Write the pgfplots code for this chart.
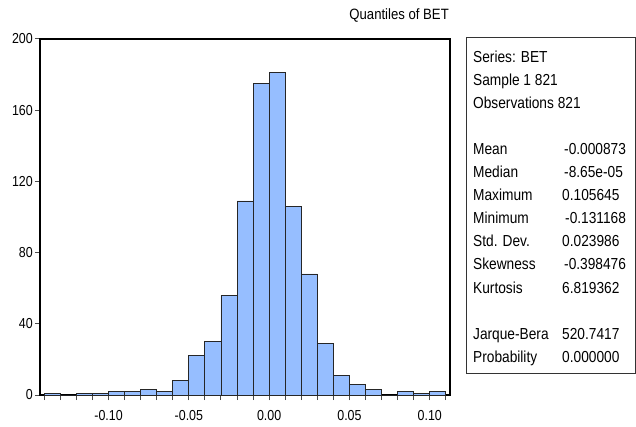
\documentclass[border=0pt]{standalone}
\usepackage{pgfplots}
\pgfplotsset{compat=1.18}
\usepackage{fontspec}
\setmainfont{Liberation Sans}[FakeStretch=0.88]
\newfontfamily\boxfont{Liberation Sans}[FakeStretch=0.86]
\newfontfamily\tickfont{Liberation Sans}[FakeStretch=0.86]
\definecolor{barblue}{RGB}{150,190,255}
\begin{document}
\begin{tikzpicture}[x=1bp,y=1bp]
\path[use as bounding box] (0,0) rectangle (636,426);
\begin{axis}[
  at={(40bp,31bp)}, anchor=south west,
  scale only axis, width=410bp, height=356bp,
  xmin=-0.1427, xmax=0.1126, ymin=0, ymax=200,
  axis line style={line width=1.3bp, black},
  tick align=outside,
  xtick pos=bottom, ytick pos=left,
  xtick={-0.10,-0.05,0,0.05,0.10},
  xticklabels={-0.10,-0.05,0.00,0.05,0.10},
  minor xtick={-0.14,-0.13,...,0.115},
  ytick={0,40,80,120,160,200},
  yticklabels={0,40,80,120,160,200},
  major tick length=5bp, minor tick length=5bp,
  every tick/.style={black!70, line width=1bp},
  xticklabel style={font=\tickfont\fontsize{14.5}{16}\selectfont, anchor=base, inner sep=0pt, yshift=-20.5bp},
  yticklabel style={font=\tickfont\fontsize{14.5}{16}\selectfont, anchor=east, inner sep=0pt, xshift=-2bp},
  /pgf/number format/assume math mode=true,
]
\addplot[ybar interval, fill=barblue, draw=black!85, line width=0.9bp] coordinates {
(-0.14,1) (-0.13,0) (-0.12,1) (-0.11,1) (-0.10,2) (-0.09,2) (-0.08,3) (-0.07,2)
(-0.06,8) (-0.05,22) (-0.04,30) (-0.03,56) (-0.02,109) (-0.01,175) (0.00,181)
(0.01,106) (0.02,68) (0.03,29) (0.04,11) (0.05,6) (0.06,3) (0.07,0) (0.08,2)
(0.09,1) (0.10,2) (0.11,0)
};
\end{axis}
\node[anchor=base east, inner sep=0pt, font=\fontsize{15}{17}\selectfont] at (449,406.7) {Quantiles of BET};
\draw[black!80, line width=1bp] (466.5,389) rectangle (635.5,53);
\begin{scope}[every node/.style={anchor=base west, inner sep=0pt, font=\boxfont\fontsize{16}{19}\selectfont}]
\node at (473,364) {Series: BET};
\node at (473,340.9) {Sample 1 821};
\node at (473,317.8) {Observations 821};
\node at (473,271.6) {Mean};
\node at (473,248.5) {Median};
\node at (473,225.4) {Maximum};
\node at (473,202.3) {Minimum};
\node at (473,179.2) {Std. Dev.};
\node at (473,156.1) {Skewness};
\node at (473,133) {Kurtosis};
\node at (473,86.8) {Jarque-Bera};
\node at (473,63.7) {Probability};
\node at (564,271.6) {-0.000873};
\node at (564,248.5) {-8.65e-05};
\node at (562,225.4) {0.105645};
\node at (565,202.3) {-0.131168};
\node at (562,179.2) {0.023986};
\node at (564,156.1) {-0.398476};
\node at (562,133) {6.819362};
\node at (562,86.8) {520.7417};
\node at (562,63.7) {0.000000};
\end{scope}
\end{tikzpicture}
\end{document}
